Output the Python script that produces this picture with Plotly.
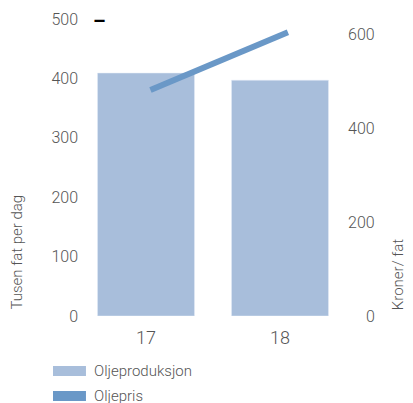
import plotly.graph_objects as go

years = ["17", "18"]
produksjon = [409, 397]          # Tusen fat per dag
pris_x = [17, 18]
pris = [481, 604]                # Kroner/fat
left_ticks = [0, 100, 200, 300, 400, 500]
right_ticks = [0, 200, 400, 600]

bar_color = "rgb(168,190,219)"
line_color = "rgb(106,152,199)"
grey = "#555555"
font = "Roboto"
W = 300

fig = go.Figure()
fig.add_trace(go.Bar(x=years, y=produksjon, marker_color=bar_color,
                     name="Oljeproduksjon", showlegend=False))
fig.add_trace(go.Scatter(x=pris_x, y=pris, mode="lines", xaxis="x2", yaxis="y2",
                         line=dict(color=line_color, width=6),
                         name="Oljepris", showlegend=False))

fig.update_layout(
    width=413, height=403,
    margin=dict(l=71, r=74, t=11, b=95, autoexpand=False),
    plot_bgcolor="white", paper_bgcolor="white",
    bargap=0.276,
    font=dict(family=font, color=grey, size=16, weight=W),
    xaxis=dict(type="category", showgrid=False, zeroline=False, showline=False,
               ticks="outside", ticklen=5, tickcolor="rgba(0,0,0,0)", automargin=False,
               tickfont=dict(size=18, color=grey, weight=W)),
    xaxis2=dict(overlaying="x", range=[16.48, 18.43], visible=False),
    yaxis=dict(range=[0, 500], tickvals=left_ticks, showgrid=False, zeroline=False,
               showline=False, automargin=False, tickfont=dict(size=16, color=grey, weight=W)),
    yaxis2=dict(range=[0, 632], overlaying="y", side="right", tickvals=right_ticks,
                ticktext=["\u2007\u20070", "200", "400", "600"], automargin=False,
                showgrid=False, zeroline=False, showline=False,
                tickfont=dict(size=16, color=grey, weight=W)),
)

# axis titles
fig.add_annotation(text="Tusen fat per dag", xref="paper", yref="paper",
                   x=-0.231, y=0.0135, xanchor="center", yanchor="bottom",
                   textangle=-90, showarrow=False, font=dict(size=15, color=grey, weight=W))
fig.add_annotation(text="Kroner/ fat", xref="paper", yref="paper",
                   x=1.193, y=0.0135, xanchor="center", yanchor="bottom",
                   textangle=-90, showarrow=False, font=dict(size=15, color=grey, weight=W))

# small black dash at top
fig.add_annotation(text="<b>–</b>", xref="paper", yref="paper", x=0.045, y=1.04,
                   showarrow=False, font=dict(size=20, color="black"))

# manual legend
fig.add_shape(type="rect", xref="paper", yref="paper", x0=-0.097, x1=0.026,
              y0=-0.202, y1=-0.168, fillcolor=bar_color, line=dict(width=0))
fig.add_shape(type="rect", xref="paper", yref="paper", x0=-0.097, x1=0.026,
              y0=-0.286, y1=-0.2525, fillcolor=line_color, line=dict(width=0))
fig.add_annotation(text="Oljeproduksjon", xref="paper", yref="paper", x=0.0485, y=-0.185,
                   xanchor="left", yanchor="middle", showarrow=False,
                   font=dict(size=15, color=grey, weight=W))
fig.add_annotation(text="Oljepris", xref="paper", yref="paper", x=0.0485, y=-0.269,
                   xanchor="left", yanchor="middle", showarrow=False,
                   font=dict(size=15, color=grey, weight=W))

fig.write_html("out.html")
